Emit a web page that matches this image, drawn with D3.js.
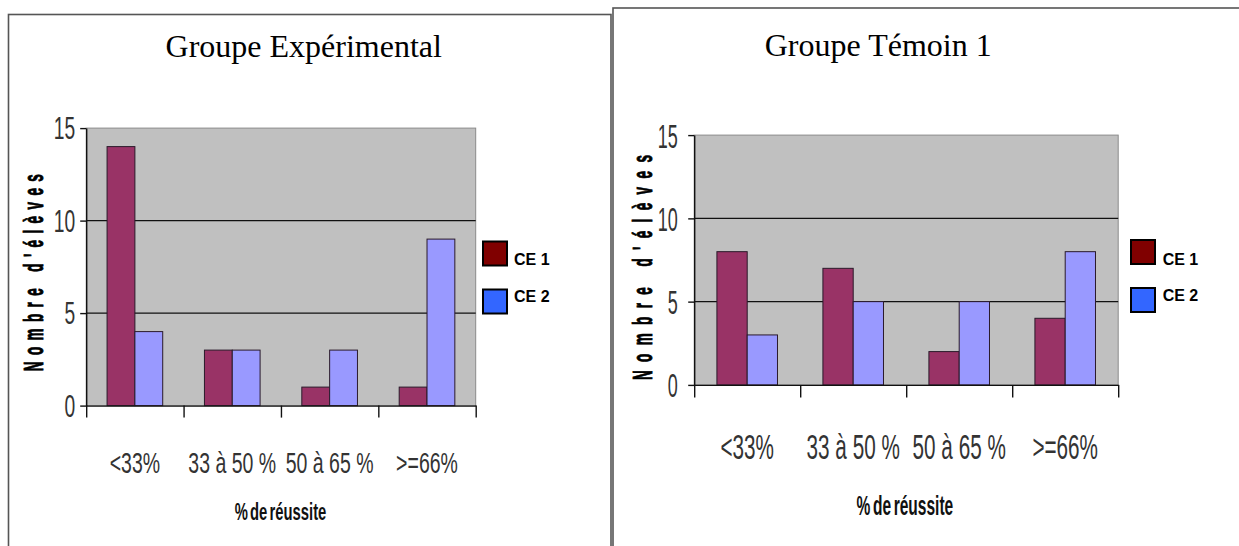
<!DOCTYPE html>
<html>
<head>
<meta charset="utf-8">
<script src="https://cdn.jsdelivr.net/npm/d3@7"></script>
<style>
  html, body { margin: 0; padding: 0; background: #fff; }
  svg { display: block; }
</style>
</head>
<body>
<svg id="chart" width="1239" height="546"></svg>
<script>
// Score bands and class counts for the two groups
const categories = ["<33%", "33 à 50 %", "50 à 65 %", ">=66%"];
const seriesNames = ["CE 1", "CE 2"];
const expCE1 = [14, 3, 1, 1];
const expCE2 = [4, 3, 3, 9];
const temCE1 = [8, 7, 2, 4];
const temCE2 = [3, 5, 5, 8];
const yTicks = [0, 5, 10, 15];
const chartTitles = ["Groupe Expérimental", "Groupe Témoin 1"];
const yTitle = "Nombre d'élèves";
const xTitle = "% de réussite";

const barColors = ["#993366", "#9999ff"];
const legendColors = ["#800000", "#3366ff"];
const sans = "'Liberation Sans', Arial, sans-serif";
const serif = "'Liberation Serif', 'Times New Roman', serif";

const svg = d3.select("#chart");

// Panel frames
svg.append("rect").attr("x", 8.5).attr("y", 14.5).attr("width", 602.5).attr("height", 560)
  .attr("fill", "none").attr("stroke", "#555").attr("stroke-width", 1.6);
svg.append("rect").attr("x", 613).attr("y", 8).attr("width", 660).attr("height", 560)
  .attr("fill", "none").attr("stroke", "#555").attr("stroke-width", 1.6);

function drawChart(cfg) {
  const g = svg.append("g");
  const x0 = d3.scaleBand().domain(categories).range([cfg.left, cfg.right]);
  const x1 = d3.scaleBand().domain(seriesNames).range([0, x0.bandwidth()]).paddingOuter(0.75);
  const y = d3.scaleLinear().domain([0, 15]).range([cfg.bottom, cfg.top]);
  const xb = d3.scaleLinear().domain([0, categories.length]).range([cfg.left, cfg.right]);

  // Title
  g.append("text").attr("x", cfg.titleX).attr("y", cfg.titleY)
    .attr("text-anchor", "middle").attr("font-family", serif)
    .attr("font-size", 32).attr("fill", "#000").text(cfg.title);

  // Plot area
  g.append("rect").attr("x", cfg.left).attr("y", y(15))
    .attr("width", cfg.right - cfg.left).attr("height", y(0) - y(15))
    .attr("fill", "#c0c0c0").attr("stroke", "#8a8a8a").attr("stroke-width", 1);

  g.selectAll("line.grid").data(yTicks.filter(d => d > 0 && d < 15)).join("line")
    .attr("class", "grid")
    .attr("x1", cfg.left).attr("x2", cfg.right)
    .attr("y1", d => y(d)).attr("y2", d => y(d))
    .attr("stroke", "#111").attr("stroke-width", 1.4);

  // Bars
  const rows = categories.map((c, i) => ({ c, values: [cfg.s1[i], cfg.s2[i]] }));
  g.selectAll("g.cat").data(rows).join("g").attr("class", "cat")
    .attr("transform", d => `translate(${x0(d.c)},0)`)
    .selectAll("rect").data(d => d.values.map((v, k) => ({ k, v }))).join("rect")
    .attr("x", d => x1(seriesNames[d.k]))
    .attr("y", d => y(d.v))
    .attr("width", x1.bandwidth())
    .attr("height", d => y(0) - y(d.v))
    .attr("fill", d => barColors[d.k])
    .attr("stroke", "#2a1a2a").attr("stroke-width", 1);

  // Y axis
  const ya = g.append("g").attr("transform", `translate(${cfg.left},0)`)
    .call(d3.axisLeft(y).tickValues(yTicks).tickSize(6).tickSizeOuter(0));
  ya.select(".domain").attr("stroke", "#111").attr("stroke-width", 1.4);
  ya.selectAll(".tick line").attr("stroke", "#111").attr("stroke-width", 1.4);
  ya.selectAll(".tick text")
    .attr("x", null).attr("dy", "0.35em")
    .attr("transform", `translate(${-cfg.yLabelGap},0) scale(${cfg.tickScale},1)`)
    .attr("font-family", sans).attr("font-size", cfg.yTickSize)
    .attr("fill", "#333").attr("text-anchor", "end");

  // X axis: boundary ticks
  const xa = g.append("g").attr("transform", `translate(0,${cfg.bottom})`)
    .call(d3.axisBottom(xb).tickValues(d3.range(categories.length + 1))
      .tickSize(cfg.xTickLen).tickSizeOuter(0).tickFormat(""));
  xa.select(".domain").attr("stroke", "#111").attr("stroke-width", 1.4);
  xa.selectAll(".tick line").attr("stroke", "#111").attr("stroke-width", 1.4);

  // X axis: category labels
  const xl = g.append("g").attr("transform", `translate(0,${cfg.bottom})`)
    .call(d3.axisBottom(x0).tickSize(0));
  xl.select(".domain").remove();
  xl.selectAll(".tick text")
    .attr("y", null).attr("dy", null)
    .attr("transform", `translate(0,${cfg.xLabelY - cfg.bottom}) scale(${cfg.xLabelScale},1)`)
    .attr("font-family", sans).attr("font-size", cfg.xLabelSize)
    .attr("fill", "#333").attr("text-anchor", "middle");

  // Axis titles
  g.append("text")
    .attr("transform", `translate(${cfg.xTitleX},${cfg.xTitleY}) scale(${cfg.xTitleScale},1)`)
    .attr("text-anchor", "middle").attr("font-family", sans).attr("font-weight", "bold")
    .attr("font-size", cfg.xTitleSize).attr("word-spacing", -3).attr("fill", "#111").text(xTitle);

  g.append("text")
    .attr("transform", `translate(${cfg.yTitleX},${cfg.yTitleY}) rotate(-90) scale(0.5,1)`)
    .attr("text-anchor", "middle").attr("font-family", sans).attr("font-weight", "bold")
    .attr("font-size", 27).attr("letter-spacing", cfg.yTitleSpacing)
    .attr("fill", "#000").attr("stroke", "#000").attr("stroke-width", 0.9)
    .text(yTitle);

  // Legend
  const lg = g.append("g");
  seriesNames.forEach((s, k) => {
    lg.append("rect").attr("x", cfg.legX).attr("y", cfg.legBoxY[k])
      .attr("width", 24).attr("height", 24)
      .attr("fill", legendColors[k]).attr("stroke", "#000").attr("stroke-width", 2);
    lg.append("text").attr("x", cfg.legTextX).attr("y", cfg.legTextY[k])
      .attr("font-family", sans).attr("font-weight", "bold").attr("font-size", 16)
      .attr("fill", "#000").text(s);
  });
}

drawChart({
  title: chartTitles[0], titleX: 303.7, titleY: 57,
  left: 86.2, right: 475.7, top: 128.1, bottom: 405.6,
  s1: expCE1, s2: expCE2,
  yTickSize: 31, tickScale: 0.62, yLabelGap: 11,
  xTickLen: 12, xLabelY: 473, xLabelSize: 30, xLabelScale: 0.65,
  xTitleX: 280.5, xTitleY: 520, xTitleSize: 23.5, xTitleScale: 0.63,
  yTitleX: 43, yTitleY: 269.5, yTitleSpacing: 12.8,
  legX: 483, legBoxY: [241.5, 289.5], legTextX: 514, legTextY: [265, 301.7]
});

drawChart({
  title: chartTitles[1], titleX: 878.2, titleY: 55.7,
  left: 694.2, right: 1118.2, top: 135.1, bottom: 384.9,
  s1: temCE1, s2: temCE2,
  yTickSize: 34, tickScale: 0.53, yLabelGap: 16.5,
  xTickLen: 12.6, xLabelY: 459, xLabelSize: 36, xLabelScale: 0.575,
  xTitleX: 904.9, xTitleY: 515, xTitleSize: 27, xTitleScale: 0.575,
  yTitleX: 652, yTitleY: 263.4, yTitleSpacing: 16.8,
  legX: 1131, legBoxY: [240, 288], legTextX: 1162.7, legTextY: [264.6, 301.2]
});
</script>
</body>
</html>
